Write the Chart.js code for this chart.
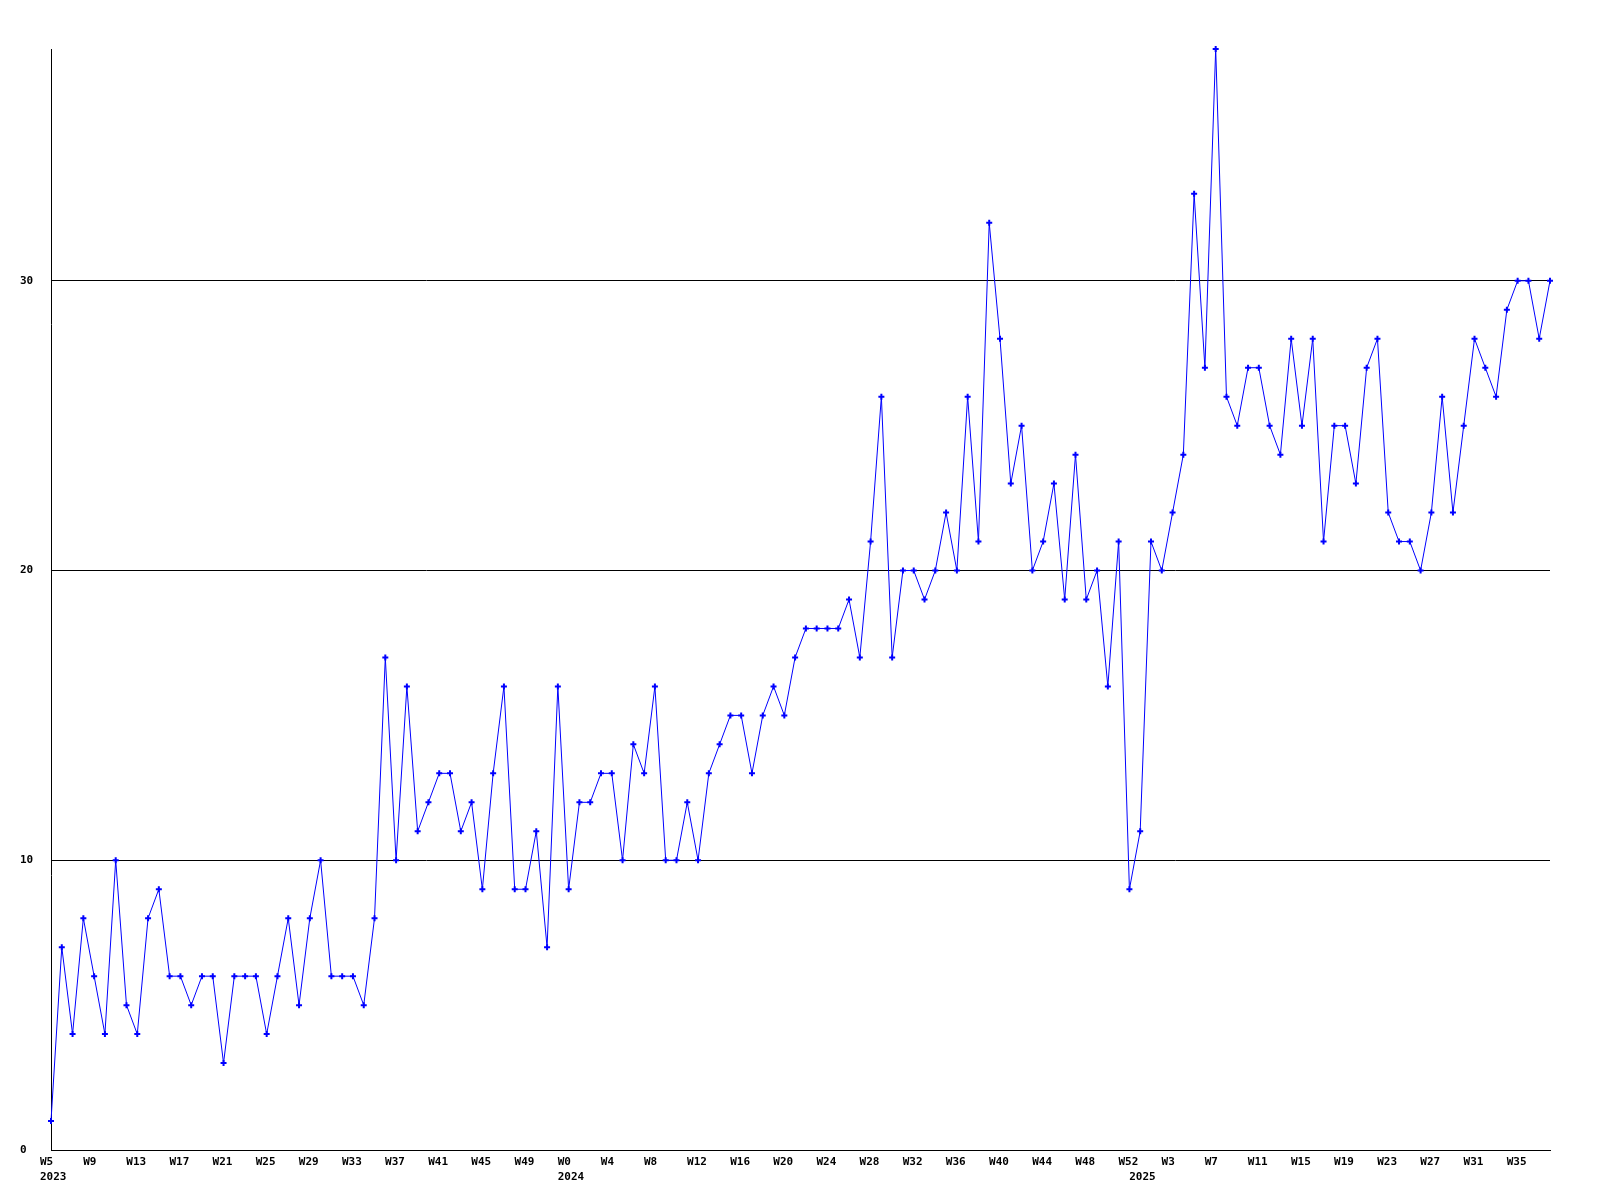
<!DOCTYPE html>
<html><head><meta charset="utf-8">
<script src="https://cdn.jsdelivr.net/npm/chart.js@4/dist/chart.umd.min.js"></script>
<style>html,body{margin:0;padding:0;background:#fff}canvas{display:block}</style>
</head><body>
<canvas id="c" width="1600" height="1200"></canvas>
<script>
const years = [2023, 2024, 2025];
const firstWeeks = [5, 0, 0];
const values2023 = [1,7,4,8,6,4,10,5,4,8, 9,6,6,5,6,6,3,6,6,6, 4,6,8,5,8,10,6,6,6,5, 8,17,10,16,11,12,13,13,11,12, 9,13,16,9,9,11,7,16];
const values2024 = [9,12,12,13,13,10,14,13,16,10, 10,12,10,13,14,15,15,13,15,16, 15,17,18,18,18,18,19,17,21,26, 17,20,20,19,20,22,20,26,21,32, 28,23,25,20,21,23,19,24,19,20, 16,21,9];
const values2025 = [11,21,20,22,24,33,27,38,26,25, 27,27,25,24,28,25,28,21,25,25, 23,27,28,22,21,21,20,22,26,22, 25,28,27,26,29,30,30,28,30];
const yTicks = [0, 10, 20, 30];
const labelEvery = 4;

const seriesByYear = [values2023, values2024, values2025];
const categories = [], yearOfPoint = [], values = [];
seriesByYear.forEach((arr, yi) => arr.forEach((v, k) => {
  categories.push('W' + (firstWeeks[yi] + k));
  yearOfPoint.push(years[yi]);
  values.push(v);
}));

const FONT = {family: '"DejaVu Sans Mono", monospace', size: 11, weight: 'bold', lineHeight: 1.36};

new Chart(document.getElementById('c'), {
  type: 'line',
  data: {
    labels: categories,
    datasets: [{
      data: values,
      borderColor: '#0000ff',
      backgroundColor: '#0000ff',
      borderWidth: 1,
      tension: 0,
      pointStyle: 'cross',
      pointRadius: 3,
      pointBorderWidth: 2,
      pointBorderColor: '#0000ff',
      clip: false
    }]
  },
  options: {
    responsive: false,
    animation: false,
    devicePixelRatio: 1,
    layout: {padding: {left: 20, right: 50, top: 49, bottom: 0}},
    plugins: {legend: {display: false}, tooltip: {enabled: false}},
    scales: {
      x: {
        offset: false,
        grid: {display: false, drawTicks: false},
        border: {display: true, color: '#000', width: 1},
        afterFit: s => { s.height = 50; },
        ticks: {
          autoSkip: false, maxRotation: 0, minRotation: 0,
          align: 'start', labelOffset: -11, padding: 5,
          color: '#000', font: FONT,
          callback: (val, i) => {
            const showWeek = i % labelEvery === 0;
            const yearStart = i === 0 || yearOfPoint[i - 1] !== yearOfPoint[i];
            if (!showWeek && !yearStart) return null;
            const wk = showWeek ? categories[i] : '';
            return yearStart ? [wk, String(yearOfPoint[i])] : wk;
          }
        }
      },
      y: {
        min: 0, max: 38,
        afterBuildTicks: s => { s.ticks = yTicks.map(v => ({value: v})); },
        afterFit: s => { s.width = 31; },
        grid: {color: '#000', lineWidth: 1, drawTicks: false},
        border: {display: true, color: '#000', width: 1},
        ticks: {crossAlign: 'far', color: '#000', font: FONT, padding: 4}
      }
    }
  }
});
</script>
</body></html>
